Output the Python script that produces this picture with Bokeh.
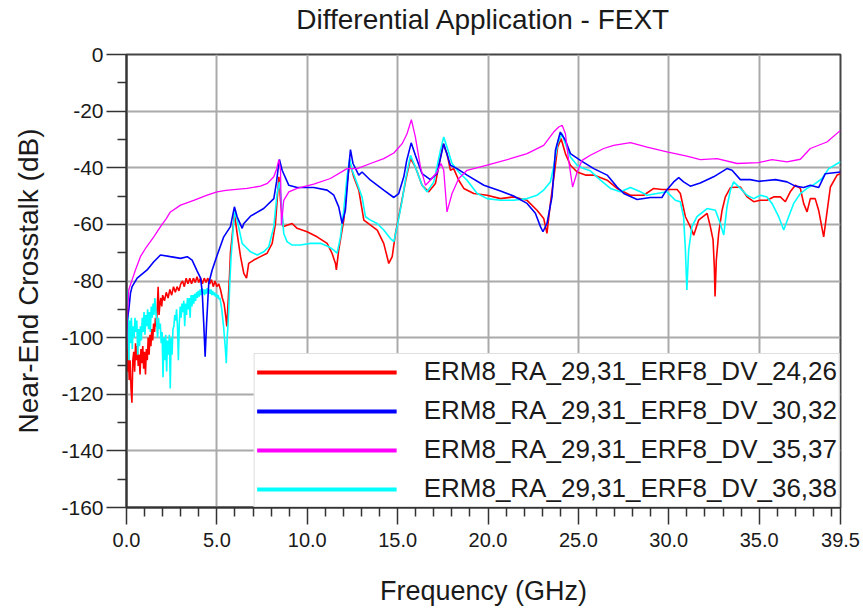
from bokeh.plotting import figure
from bokeh.models import FixedTicker, PrintfTickFormatter, Legend, LegendItem, Range1d, Title
from bokeh.embed import file_html
from bokeh.resources import INLINE

FONT = "Liberation Sans"

title_text = "Differential Application - FEXT"
x_label = "Frequency (GHz)"
y_label = "Near-End Crosstalk (dB)"

x_major_ticks = [0, 5, 10, 15, 20, 25, 30, 35, 39.5]
x_minor_ticks = [1, 2, 3, 4, 6, 7, 8, 9, 11, 12, 13, 14, 16, 17, 18, 19, 21, 22, 23, 24,
                 26, 27, 28, 29, 31, 32, 33, 34, 36, 37, 38, 39]
y_major_ticks = [-160, -140, -120, -100, -80, -60, -40, -20, 0]
y_minor_ticks = [-150, -130, -110, -90, -70, -50, -30, -10]

series_labels = ["ERM8_RA_29,31_ERF8_DV_24,26", "ERM8_RA_29,31_ERF8_DV_30,32",
                 "ERM8_RA_29,31_ERF8_DV_35,37", "ERM8_RA_29,31_ERF8_DV_36,38"]
series_colors = ["#ff0000", "#0000ff", "#ff00ff", "#00ffff"]

# ---- ERM8_RA_29,31_ERF8_DV_24,26 (red)
red_freq = [
    0.0, 0.05, 0.1, 0.15, 0.2, 0.25, 0.3, 0.35, 0.4, 0.45,
    0.5, 0.55, 0.6, 0.65, 0.7, 0.75, 0.8, 0.85, 0.9, 0.95,
    1.0, 1.05, 1.1, 1.15, 1.2, 1.25, 1.3, 1.35, 1.4, 1.45,
    1.5, 1.55, 1.6, 1.65, 1.7, 1.75, 1.8, 1.85, 1.9, 1.95,
    2.0, 2.1, 2.2, 2.3, 2.4, 2.5, 2.6, 2.7, 2.8, 2.9,
    3.0, 3.1, 3.2, 3.3, 3.4, 3.5, 3.6, 3.7, 3.8, 3.9,
    4.0, 4.1, 4.2, 4.3, 4.4, 4.5, 4.6, 4.7, 4.8, 4.9,
    5.0, 5.1, 5.2, 5.3, 5.4, 5.5, 5.55, 5.6, 5.7, 5.75,
    5.84, 5.97, 6.12, 6.31, 6.49, 6.64, 6.76, 7.04, 7.41, 7.78,
    8.06, 8.24, 8.43, 8.52, 8.66, 8.88, 9.16, 9.44, 9.99, 10.54,
    11.1, 11.37, 11.56, 11.61, 11.74, 12.02, 12.2, 12.35, 12.57, 12.85,
    13.13, 13.5, 13.87, 14.23, 14.51, 14.7, 14.88, 15.15, 15.43, 15.71,
    15.98, 16.35, 16.72, 17.09, 17.37, 17.51, 17.73, 17.92, 18.1, 18.38,
    18.66, 19.21, 19.95, 20.69, 21.42, 22.16, 22.71, 23.08, 23.26, 23.45,
    23.67, 23.85, 24.04, 24.28, 24.56, 24.93, 25.39, 25.85, 26.59, 27.14,
    27.88, 28.61, 29.17, 29.62, 29.99, 30.46, 30.64, 30.92, 31.19, 31.38,
    31.65, 32.12, 32.3, 32.45, 32.52, 32.56, 32.63, 32.76, 32.95, 33.13,
    33.41, 33.96, 34.33, 34.7, 35.06, 35.43, 35.8, 36.17, 36.45, 36.72,
    37.0, 37.28, 37.46, 37.65, 37.83, 38.1, 38.29, 38.48, 38.57, 38.72,
    38.94, 39.31, 39.5]
red_db = [
    -100, -112, -104, -115, -108, -118, -123, -108, -105, -112,
    -102, -108, -103, -110, -106, -113, -104, -109, -103, -111,
    -105, -113, -104, -108, -100, -106, -99, -103, -97, -101,
    -95, -98, -93, -96, -90, -82, -92, -88, -86, -89,
    -85, -87, -84, -86, -83, -85, -82, -84, -82, -83.5,
    -81, -80, -82, -79, -81, -79, -81, -79, -80.5, -78.5,
    -80.5, -79, -81, -79, -80.5, -79, -81, -79.5, -82, -80,
    -82, -81, -83, -86, -88, -93, -96, -90, -78, -70,
    -64.4, -56.1, -63.2, -71.4, -77.3, -79.0, -73.8, -72.6, -71.4, -70.2,
    -66.7, -59.7, -43.2, -51.5, -60.8, -60.3, -59.7, -61.4, -62.6, -64.4,
    -66.7, -70.2, -73.8, -76.1, -69.1, -58.5, -45.6, -38.0, -43.2, -47.9,
    -58.5, -60.3, -62.0, -66.7, -73.8, -71.4, -63.2, -54.4, -45.0, -36.8,
    -39.7, -46.2, -48.5, -45.6, -36.2, -31.5, -35.0, -40.9, -40.3, -44.4,
    -47.3, -49.1, -49.7, -50.9, -50.3, -51.5, -55.0, -57.9, -63.2, -52.6,
    -42.1, -32.7, -29.7, -35.0, -39.1, -41.5, -42.6, -42.6, -44.4, -47.3,
    -49.7, -49.7, -47.3, -47.7, -47.7, -47.7, -49.1, -57.3, -60.8, -63.8,
    -58.5, -56.1, -60.8, -65.5, -75.0, -85.5, -72.6, -63.2, -55.0, -50.3,
    -47.0, -46.8, -50.3, -52.0, -51.5, -51.5, -50.3, -50.3, -52.0, -48.5,
    -46.2, -47.3, -52.6, -55.6, -50.9, -50.9, -55.0, -61.4, -64.4, -57.3,
    -46.8, -42.6, -42.1]

# ---- ERM8_RA_29,31_ERF8_DV_30,32 (blue)
blue_freq = [
    0.0, 0.04, 0.13, 0.22, 0.31, 0.59, 1.14, 1.51, 1.88, 2.43,
    2.99, 3.36, 3.63, 3.91, 4.1, 4.19, 4.28, 4.35, 4.43, 4.55,
    4.74, 5.01, 5.38, 5.75, 5.97, 6.12, 6.4, 6.49, 6.86, 7.59,
    8.15, 8.3, 8.4, 8.46, 8.61, 8.98, 9.44, 10.36, 11.1, 11.47,
    11.74, 11.93, 12.11, 12.3, 12.39, 12.53, 12.85, 13.03, 13.5, 14.23,
    14.79, 15.06, 15.34, 15.5, 15.75, 15.98, 16.35, 16.81, 17.18, 17.55,
    17.92, 18.29, 18.84, 19.77, 20.69, 21.42, 22.16, 22.62, 22.9, 23.04,
    23.26, 23.54, 23.73, 24.0, 24.28, 24.56, 25.11, 25.85, 26.59, 27.14,
    27.51, 28.25, 28.98, 29.62, 29.81, 30.27, 30.55, 30.82, 31.19, 31.74,
    32.48, 33.22, 33.5, 33.96, 34.51, 34.97, 35.9, 36.54, 37.0, 37.46,
    37.83, 38.29, 38.66, 39.5]
blue_db = [
    -97, -93.7, -90, -84.3, -82, -79, -76.1, -73.2, -70.8, -71.4,
    -72, -71.4, -72.6, -76.5, -79, -84, -96, -106.7, -95, -80.8,
    -76.1, -71, -64.4, -60.8, -53.8, -57.3, -61.4, -59.7, -57.1, -54.4,
    -50.9, -45, -39.7, -37.1, -40.9, -46.2, -47.0, -47.0, -47.9, -49.7,
    -53.8, -59.7, -55, -39.7, -33.6, -38.5, -42.6, -41.5, -44.4, -47.9,
    -50.5, -49.1, -43.2, -37.5, -31.2, -35.6, -42.1, -44.2, -42.1, -31.5,
    -39.1, -40.3, -42.6, -46.2, -48.2, -50.0, -52.6, -56.1, -60.8, -62.6,
    -59.7, -50.3, -33.8, -27.4, -30.3, -35.0, -37.4, -40.3, -42.6, -46.8,
    -49.1, -51.2, -50.5, -50.5, -48.5, -45.0, -43.5, -45.0, -46.5, -45.4,
    -43.2, -40.3, -40.9, -44.2, -44.2, -44.8, -44.2, -45.0, -46.5, -47.0,
    -46.2, -47.0, -42.1, -41.5]

# ---- ERM8_RA_29,31_ERF8_DV_35,37 (magenta)
magenta_freq = [
    0.0, 0.05, 0.13, 0.31, 0.5, 0.77, 1.1, 1.51, 1.88, 2.2,
    2.43, 2.99, 3.72, 4.46, 5.01, 5.5, 5.93, 6.67, 7.41, 7.8,
    8.15, 8.3, 8.43, 8.52, 8.57, 8.7, 8.98, 9.44, 10.36, 11.28,
    12.2, 12.76, 13.5, 14.23, 14.79, 15.25, 15.52, 15.76, 15.98, 16.26,
    16.54, 16.81, 17.18, 17.4, 17.55, 17.73, 18.01, 18.38, 18.84, 19.95,
    21.24, 22.16, 23.08, 23.63, 23.91, 24.1, 24.28, 24.46, 24.68, 24.93,
    25.2, 25.66, 26.4, 26.95, 27.88, 28.8, 29.9, 31.0, 31.75, 32.67,
    33.78, 34.97, 35.71, 36.54, 37.28, 37.83, 38.75, 39.5]
magenta_db = [
    -106, -92, -83, -79.6, -76, -71.4, -68, -64.4, -60.8, -58,
    -55.6, -53.2, -51.5, -49.7, -48.5, -48, -47.7, -47.3, -46.5, -45.5,
    -43.2, -40.5, -37.1, -40.9, -60.3, -51.5, -48.5, -47.3, -45.8, -43.8,
    -40.3, -40.3, -38.5, -36.8, -34.8, -31.5, -28, -23.0, -29.1, -39.7,
    -46.2, -44.4, -41.6, -38.5, -40.9, -55.6, -49.1, -43.8, -40.9, -39.1,
    -36.8, -35.0, -32.1, -27.4, -25.6, -25.0, -27.9, -37.4, -46.8, -41.5,
    -37.4, -35.6, -33.2, -32.1, -31.1, -32.7, -34.4, -35.9, -37.1, -36.8,
    -38.5, -38.2, -37.1, -37.9, -37.0, -33.2, -30.9, -26.8]

# ---- ERM8_RA_29,31_ERF8_DV_36,38 (cyan)
cyan_freq = [
    0.0, 0.03, 0.06, 0.1, 0.13, 0.17, 0.22, 0.27, 0.32, 0.37,
    0.42, 0.47, 0.52, 0.57, 0.62, 0.67, 0.72, 0.77, 0.82, 0.87,
    0.92, 0.97, 1.02, 1.07, 1.12, 1.17, 1.22, 1.27, 1.32, 1.37,
    1.42, 1.47, 1.52, 1.57, 1.62, 1.67, 1.72, 1.77, 1.82, 1.87,
    1.92, 1.97, 2.02, 2.07, 2.12, 2.17, 2.22, 2.27, 2.32, 2.37,
    2.42, 2.47, 2.52, 2.57, 2.62, 2.67, 2.72, 2.77, 2.82, 2.87,
    2.92, 2.97, 3.02, 3.07, 3.12, 3.17, 3.22, 3.27, 3.32, 3.37,
    3.42, 3.47, 3.52, 3.57, 3.62, 3.67, 3.72, 3.77, 3.82, 3.87,
    3.92, 3.97, 4.02, 4.07, 4.12, 4.17, 4.22, 4.27, 4.32, 4.37,
    4.42, 4.47, 4.52, 4.57, 4.62, 4.67, 4.72, 4.77, 4.82, 4.87,
    4.92, 4.97, 5.02, 5.07, 5.12, 5.17, 5.22, 5.27, 5.32, 5.37,
    5.42, 5.47, 5.52, 5.57, 5.62, 5.67, 5.72, 5.78, 5.85, 5.92,
    6.01, 6.16, 6.4, 6.58, 6.86, 7.23, 7.59, 7.87, 8.15, 8.33,
    8.46, 8.55, 8.7, 8.88, 9.16, 9.62, 10.18, 10.73, 11.19, 11.47,
    11.65, 11.84, 12.02, 12.2, 12.35, 12.48, 12.76, 13.03, 13.22, 13.5,
    13.87, 14.23, 14.6, 14.79, 14.97, 15.25, 15.43, 15.71, 15.98, 16.35,
    16.63, 17.0, 17.37, 17.55, 17.73, 18.01, 18.38, 18.84, 19.4, 19.95,
    20.69, 21.42, 22.16, 22.71, 23.08, 23.45, 23.63, 23.85, 24.1, 24.28,
    24.56, 24.93, 25.29, 25.66, 26.22, 26.77, 27.32, 27.88, 28.43, 28.8,
    29.35, 29.9, 30.36, 30.64, 30.82, 30.92, 31.0, 31.1, 31.28, 31.56,
    32.12, 32.58, 32.85, 33.04, 33.22, 33.41, 33.59, 33.96, 34.33, 34.7,
    35.06, 35.43, 35.71, 36.08, 36.36, 36.63, 36.91, 37.28, 37.65, 38.1,
    38.48, 38.85, 39.5]
cyan_db = [
    -98, -83, -100, -92, -108, -94, -102, -93, -104, -96,
    -100, -93, -98, -94, -106, -97, -103, -96, -101, -93,
    -98, -91, -99, -92, -96, -90, -97, -91, -98, -89,
    -93, -88, -92, -86, -90, -95, -100, -93, -97, -95,
    -102, -98, -114, -100, -108, -99, -112, -101, -106, -99,
    -118, -100, -106, -97, -96, -92, -94, -90, -96, -108,
    -95, -89, -93, -88, -91, -87, -96, -88, -92, -86,
    -90, -86, -93, -85, -89, -85, -88, -84.5, -87, -84,
    -86, -83.5, -85.5, -83, -85, -82.5, -84.5, -83, -85, -83,
    -84.5, -82.5, -84, -83, -84.5, -83, -85, -83.5, -85, -84,
    -85.5, -84.5, -86, -85, -86.5, -86, -88, -90, -93, -96,
    -100, -104, -109, -100, -95, -88, -80, -72, -66, -60,
    -55, -59.7, -66.7, -67.9, -69.7, -70.8, -69.7, -67.9, -60.8, -49.1,
    -45, -50.3, -63.2, -66.1, -67.3, -67.3, -66.7, -66.7, -67.9, -69.1,
    -70.2, -64.4, -55, -43.2, -36.8, -40.9, -45.6, -50.3, -57.3, -58.5,
    -59.7, -62.0, -65.0, -66.1, -60.8, -51.5, -44.4, -35.6, -39.7, -46.2,
    -48.5, -45.0, -33.8, -29.1, -32.7, -38.5, -41.5, -44.4, -49.1, -50.9,
    -51.5, -51.5, -50.9, -49.7, -47.9, -45.0, -39.7, -31.5, -28.0, -31.5,
    -36.2, -39.1, -40.3, -41.1, -44.4, -47.3, -48.5, -47.0, -48.5, -49.7,
    -49.1, -48.5, -51.5, -52.0, -57.3, -69.1, -83.2, -69.1, -60.8, -57.3,
    -54.4, -55.0, -59.7, -63.8, -53.8, -47.9, -45.0, -47.3, -49.7, -50.9,
    -49.7, -50.3, -52.6, -57.3, -62.0, -57.3, -52.6, -49.1, -47.3, -45.6,
    -43.8, -40.3, -37.9]

p = figure(width=863, height=608, output_backend="svg", toolbar_location=None,
           x_range=Range1d(0, 39.5), y_range=Range1d(-160, 0),
           min_border_left=126, min_border_right=23, min_border_top=54,
           min_border_bottom=100)

p.background_fill_color = "white"
p.border_fill_color = "white"
p.outline_line_color = "#444444"
p.outline_line_width = 2

# spacer panel between frame and title, then the title itself
spacer = Title(text=" ", text_font_size="1px", standoff=17)
p.add_layout(spacer, "above")
main_title = Title(text=title_text, align="center", standoff=0, vertical_align="bottom",
                   text_font=FONT, text_font_size="28px", text_font_style="normal",
                   text_color="#1a1a1a")
p.add_layout(main_title, "above")

p.xaxis.ticker = FixedTicker(ticks=x_major_ticks, minor_ticks=x_minor_ticks)
p.xaxis.formatter = PrintfTickFormatter(format="%.1f")
p.yaxis.ticker = FixedTicker(ticks=y_major_ticks, minor_ticks=y_minor_ticks)
p.yaxis.formatter = PrintfTickFormatter(format="%d")

p.xaxis.axis_label = x_label
p.yaxis.axis_label = y_label
for ax in (p.xaxis, p.yaxis):
    ax.axis_label_text_font = FONT
    ax.axis_label_text_font_style = "normal"
    ax.axis_label_text_color = "#1a1a1a"
    ax.major_label_text_font = FONT
    ax.major_label_text_color = "#1a1a1a"
    ax.axis_line_color = "#333333"
    ax.axis_line_width = 2
    ax.major_tick_line_color = "#333333"
    ax.minor_tick_line_color = "#333333"
    ax.major_tick_line_width = 1.5
    ax.minor_tick_line_width = 1.5
    ax.major_tick_in = 0
    ax.minor_tick_in = 0
    ax.minor_tick_out = 9

p.xaxis.axis_label_text_font_size = "27px"
p.yaxis.axis_label_text_font_size = "28px"
p.xaxis.major_label_text_font_size = "20px"
p.yaxis.major_label_text_font_size = "21px"
p.xaxis.major_tick_out = 17
p.yaxis.major_tick_out = 20
p.xaxis.major_label_standoff = 8
p.yaxis.major_label_standoff = 3
p.xaxis.axis_label_standoff = 26
p.yaxis.axis_label_standoff = 14

p.grid.grid_line_color = "#aaaaaa"
p.grid.grid_line_width = 2

p.line(red_freq, red_db, line_color=series_colors[0], line_width=1.6)
p.line(cyan_freq, cyan_db, line_color=series_colors[3], line_width=1.6)
p.line(blue_freq, blue_db, line_color=series_colors[1], line_width=1.6)
p.line(magenta_freq, magenta_db, line_color=series_colors[2], line_width=1.3)

# legend-only renderers (a single NaN point: nothing drawn in the plot, thick line in legend)
items = []
for lbl, col in zip(series_labels, series_colors):
    r = p.line(x=[float("nan")], y=[float("nan")], line_color=col, line_width=4)
    items.append(LegendItem(label=lbl, renderers=[r]))

legend = Legend(items=items, location="bottom_right", margin=0, padding=2, spacing=8,
                glyph_width=140, glyph_height=24, label_height=24, label_standoff=27,
                label_text_font=FONT, label_text_font_size="26px", label_text_color="#1a1a1a",
                border_line_color="#c0c0c0", border_line_width=1,
                background_fill_color="white", background_fill_alpha=1)
p.add_layout(legend)

open("out.html", "w").write(file_html(p, INLINE))
